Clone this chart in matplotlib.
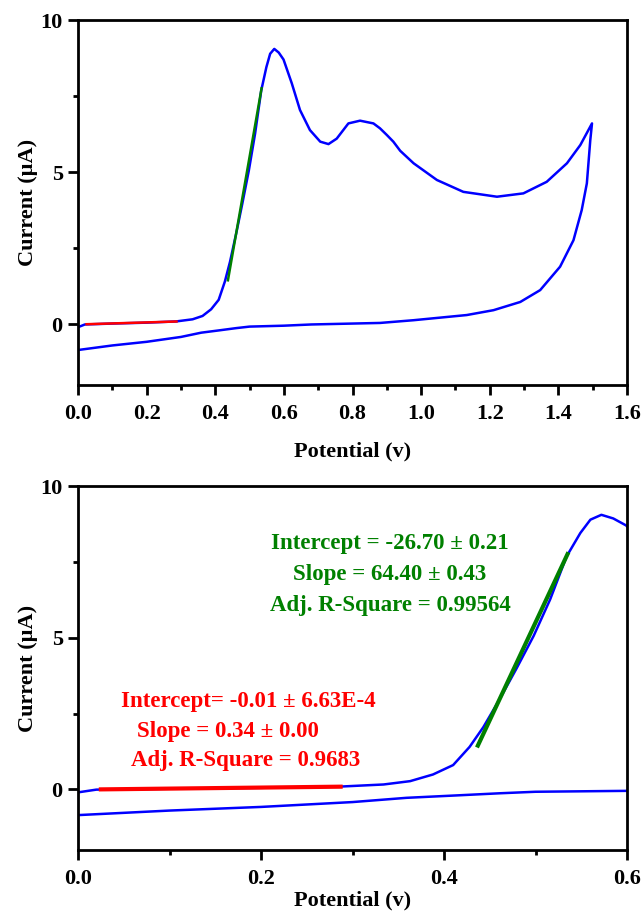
import numpy as np
import matplotlib
matplotlib.use('Agg')
import matplotlib.pyplot as plt
from matplotlib.ticker import MultipleLocator

# Forward (anodic) scan
fwd_potential = [0.0, 0.02, 0.1, 0.2, 0.286, 0.334, 0.363, 0.388, 0.41, 0.428, 0.443,
                 0.461, 0.479, 0.498, 0.516, 0.534, 0.549, 0.56, 0.572, 0.585, 0.599,
                 0.623, 0.647, 0.676, 0.706, 0.73, 0.754, 0.788, 0.822, 0.861, 0.88,
                 0.9, 0.919, 0.939, 0.978, 1.046, 1.123, 1.221, 1.298, 1.366, 1.425,
                 1.464, 1.498]
fwd_current = [-0.1, -0.01, 0.02, 0.05, 0.09, 0.16, 0.27, 0.49, 0.8, 1.4, 2.05,
               2.98, 3.97, 5.06, 6.26, 7.68, 8.45, 8.89, 9.05, 8.93, 8.7,
               7.92, 7.04, 6.38, 6.0, 5.92, 6.1, 6.6, 6.69, 6.6, 6.44,
               6.22, 6.0, 5.7, 5.29, 4.74, 4.35, 4.19, 4.3, 4.68, 5.29,
               5.89, 6.6]

# Reverse scan
rev_potential = [1.498, 1.493, 1.483, 1.468, 1.444, 1.405, 1.347, 1.289, 1.211, 1.133,
                 0.978, 0.88, 0.68, 0.6, 0.5, 0.461, 0.414, 0.359, 0.3, 0.2, 0.1, 0.0]
rev_current = [6.6, 6.05, 4.63, 3.75, 2.76, 1.89, 1.12, 0.73, 0.46, 0.3,
               0.13, 0.04, -0.01, -0.05, -0.08, -0.13, -0.2, -0.28, -0.42, -0.58,
               -0.7, -0.85]

# Linear fits
red_range = [0.025, 0.287]
red_slope, red_intercept = 0.34, -0.01
green_range = [0.437, 0.535]
green_slope, green_intercept = 64.40, -26.70

green_text = "Intercept = -26.70 \u00b1 0.21\nSlope = 64.40 \u00b1 0.43\nAdj. R-Square = 0.99564"
red_lines = ["Intercept= -0.01 \u00b1 6.63E-4", "Slope = 0.34 \u00b1 0.00",
             "Adj. R-Square = 0.9683"]

plt.rcParams['font.family'] = ['Liberation Serif', 'DejaVu Serif']
plt.rcParams['font.weight'] = 'bold'

BLUE = '#0000ff'
RED = '#ff0000'
GREEN = '#008000'

potential = fwd_potential + rev_potential
current = fwd_current + rev_current


def style_axes(ax, xmax, xmajor):
    ax.set_xlim(0, xmax)
    ax.set_ylim(-2, 10)
    ax.xaxis.set_major_locator(MultipleLocator(xmajor))
    ax.xaxis.set_minor_locator(MultipleLocator(0.1))
    ax.yaxis.set_major_locator(MultipleLocator(5))
    ax.yaxis.set_minor_locator(MultipleLocator(2.5))
    ax.tick_params(which='major', length=7, width=2, labelsize=16)
    ax.tick_params(axis='x', which='major', pad=7)
    ax.tick_params(axis='y', which='major', pad=4)
    ax.tick_params(which='minor', length=3.5, width=2)
    for s in ax.spines.values():
        s.set_linewidth(2)
    for lab in ax.get_xticklabels() + ax.get_yticklabels():
        lab.set_fontweight('bold')
    ax.set_xlabel('Potential (v)', fontsize=16, fontweight='bold')
    ax.set_ylabel('Current (\u00b5A)', fontsize=16, fontweight='bold')


fig = plt.figure(figsize=(6.43, 9.11), dpi=100)

# Top panel: full CV
ax1 = fig.add_axes([78 / 643, 1 - 385 / 911, 549 / 643, 365 / 911])
ax1.plot(potential, current, color=BLUE, lw=1.8)
x = np.array(red_range)
ax1.plot(x, red_slope * x + red_intercept, color=RED, lw=1.8)
x = np.array(green_range)
ax1.plot(x, green_slope * x + green_intercept, color=GREEN, lw=1.8)
style_axes(ax1, 1.6, 0.2)
ax1.xaxis.labelpad = 12
ax1.yaxis.labelpad = 2

# Bottom panel: zoom on the onset
ax2 = fig.add_axes([78 / 643, 1 - 850 / 911, 549 / 643, 364 / 911])
ax2.plot(potential, current, color=BLUE, lw=1.8)
x = np.array(red_range)
ax2.plot(x, red_slope * x + red_intercept, color=RED, lw=3)
x = np.array(green_range)
ax2.plot(x, green_slope * x + green_intercept, color=GREEN, lw=3)
style_axes(ax2, 0.6, 0.2)
ax2.xaxis.labelpad = 1
ax2.yaxis.labelpad = 2

ax2.text(0.341, 7.08, green_text, color=GREEN, fontsize=16.5, fontweight='bold',
         ha='center', va='center', linespacing=1.6)
red_pos = [(0.047, 2.89), (0.065, 1.9), (0.058, 0.95)]
for (px, py), line in zip(red_pos, red_lines):
    ax2.text(px, py, line, color=RED, fontsize=16.5, fontweight='bold',
             ha='left', va='center')

fig.savefig('out.png', dpi=100, facecolor='white')
plt.close(fig)
